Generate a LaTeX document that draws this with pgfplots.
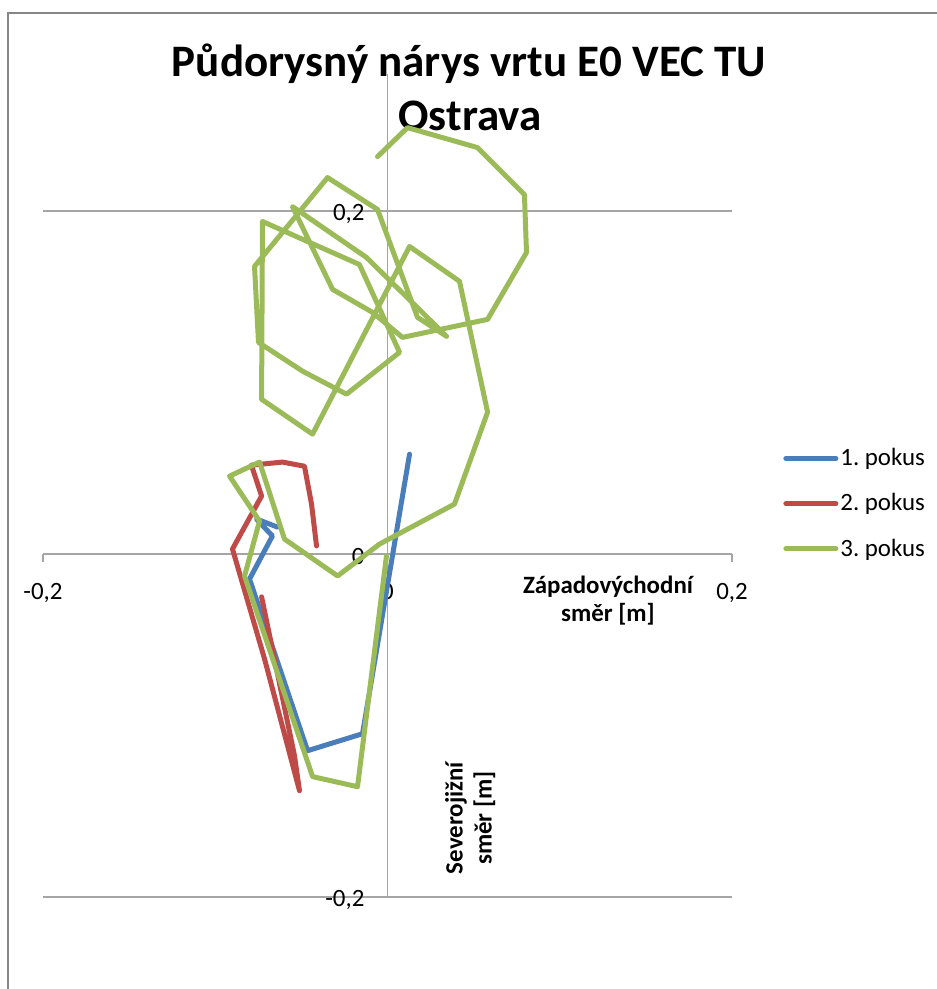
\documentclass[border=0pt]{standalone}
\usepackage{fontspec}
\setmainfont{Carlito}
\usepackage{pgfplots}
\pgfplotsset{compat=1.18}
\definecolor{s1}{RGB}{74,126,187}
\definecolor{s2}{RGB}{190,75,72}
\definecolor{s3}{RGB}{155,187,89}
\definecolor{gridc}{RGB}{165,165,165}
\definecolor{framec}{RGB}{134,134,134}
\frenchspacing
\begin{document}
\begin{tikzpicture}
\useasboundingbox (0bp,0bp) rectangle (468.5bp,494.5bp);
\draw[framec, line width=0.8bp] (4bp,-10bp) -- (4bp,488bp) -- (480bp,488bp);
\node[font=\fontsize{22.6}{26}\selectfont\bfseries, anchor=base] at (234.5bp,456bp) {Půdorysný nárys vrtu E0 VEC TU};
\node[font=\fontsize{22.6}{26}\selectfont\bfseries, anchor=base] at (235bp,429bp) {Ostrava};
\begin{axis}[
  at={(21.5bp,46bp)}, anchor=south west,
  scale only axis, width=344.5bp, height=411.6bp,
  xmin=-0.2, xmax=0.2, ymin=-0.2, ymax=0.28,
  enlargelimits=false,
  axis lines=middle,
  axis line style={gridc, line width=0.75bp, -},
  hide obscured x ticks=false, hide obscured y ticks=false,
  xtick={-0.2,0,0.2}, xticklabels={{-0,2},{0},{0,2}},
  ytick={-0.2,0,0.2}, yticklabels={{-0,2},{0},{0,2}},
  ymajorgrids, grid style={gridc, line width=0.75bp},
  tick align=outside, major tick length=4bp,
  tick style={gridc, line width=0.75bp},
  xticklabel style={font=\fontsize{12.5}{15}\selectfont, yshift=-7bp},
  yticklabel style={font=\fontsize{12.5}{15}\selectfont, xshift=-4bp, yshift=-1.5bp},
  xlabel={Západovýchodní\\směr [m]},
  xlabel style={at={(axis description cs:0.820,0.360)}, anchor=center, align=center, font=\fontsize{12.5}{14.5}\selectfont\bfseries},
  ylabel={Severojižní\\směr [m]},
  ylabel style={at={(axis description cs:0.620,0.096)}, anchor=center, rotate=90, align=center, font=\fontsize{12.5}{14.5}\selectfont\bfseries},
  legend style={at={(axis description cs:1.074,0.548)}, anchor=north west, draw=none, fill=none,
    font=\fontsize{12.5}{15}\selectfont, row sep=10.5bp, inner sep=0pt, nodes={inner sep=1bp}},
  legend cell align=left,
  legend image code/.code={\draw[#1, line cap=round] (0bp,0bp) -- (25bp,0bp);},
  every axis plot/.append style={line width=2.5bp, line join=round, line cap=round},
]
\addplot[s1] coordinates {
(0.0128,0.0582) (-0.0145,-0.1048) (-0.0464,-0.1147) (-0.0801,-0.0146)
(-0.0668,0.0105) (-0.0761,0.0204) (-0.0639,0.0157)
};
\addlegendentry{1. pokus}
\addplot[s2] coordinates {
(-0.0412,0.0047) (-0.0441,0.0291) (-0.0482,0.0512) (-0.0610,0.0536)
(-0.0790,0.0518) (-0.0731,0.0338) (-0.0900,0.0029) (-0.0714,-0.0611)
(-0.0511,-0.1380) (-0.0540,-0.1176) (-0.0731,-0.0250)
};
\addlegendentry{2. pokus}
\addplot[s3] coordinates {
(-0.0006,-0.0012) (-0.0174,-0.1357) (-0.0435,-0.1298) (-0.0830,-0.0128)
(-0.0743,0.0192) (-0.0917,0.0454) (-0.0743,0.0536) (-0.0598,0.0087)
(-0.0290,-0.0128) (-0.0046,0.0058) (0.0389,0.0291) (0.0581,0.0827)
(0.0418,0.1590) (0.0128,0.1793) (-0.0435,0.0699) (-0.0731,0.0902)
(-0.0726,0.1939) (-0.0163,0.1688) (0.0070,0.1176) (-0.0238,0.0932)
(-0.0493,0.1066) (-0.0749,0.1234) (-0.0772,0.1677) (-0.0348,0.2195)
(-0.0058,0.2009) (0.0174,0.1380) (0.0343,0.1269) (-0.0122,0.1729)
(-0.0552,0.2026) (-0.0319,0.1543) (-0.0087,0.1409) (0.0087,0.1263)
(0.0581,0.1368) (0.0807,0.1758) (0.0795,0.2096) (0.0522,0.2370)
(0.0116,0.2486) (-0.0058,0.2317)
};
\addlegendentry{3. pokus}
\end{axis}
\end{tikzpicture}
\end{document}
